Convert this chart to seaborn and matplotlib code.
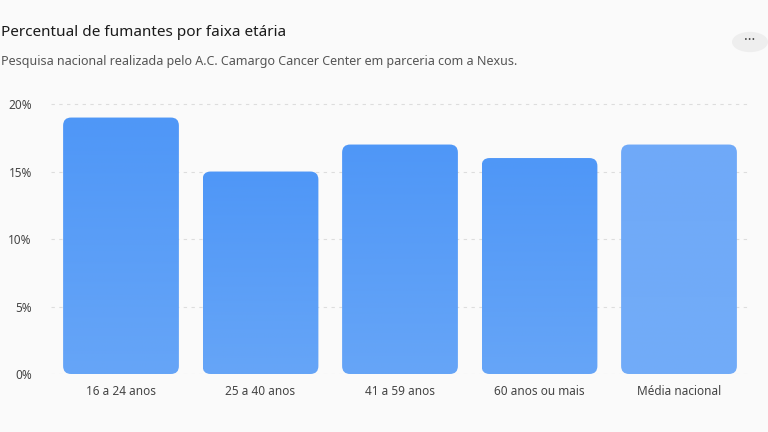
import matplotlib
matplotlib.use("Agg")
import matplotlib.pyplot as plt
import seaborn as sns
import numpy as np
import pandas as pd
from matplotlib.patches import FancyBboxPatch, Circle

categories = ["16 a 24 anos", "25 a 40 anos", "41 a 59 anos", "60 anos ou mais", "Média nacional"]
values = [19, 15, 17, 16, 17]
yticks = [0, 5, 10, 15, 20]
ytick_labels = ["0%", "5%", "10%", "15%", "20%"]

sns.set_theme(style="white")
plt.rcParams['font.family'] = ['Segoe UI', 'Noto Sans', 'DejaVu Sans']
bg = "#fafafa"
fig = plt.figure(figsize=(7.68, 4.32), dpi=100, facecolor=bg)
W, H = 768, 432
ax = fig.add_axes([51.25/W, 58/H, (748.75-51.25)/W, (374-100)/H], facecolor=bg)
df = pd.DataFrame({"cat": categories, "val": values})
sns.barplot(data=df, x="cat", y="val", ax=ax, width=0.83, color="#4f97f7")
ax.set_xlim(-0.5, 4.5)
ax.set_ylim(0, 20.3)
fig.canvas.draw()
# data per pixel
xpp = 5.0 / (748.75 - 51.25)
ypp = 20.3 / (374 - 100)
for i, p in enumerate(list(ax.patches)):
    x0, w, h = p.get_x(), p.get_width(), p.get_height()
    p.remove()
    top_c = np.array(matplotlib.colors.to_rgb("#6fa9f8" if i == 4 else "#4f97f7"))
    bot_c = np.array(matplotlib.colors.to_rgb("#72acf8" if i == 4 else "#66a5f7"))
    grad = np.linspace(0, 1, 100)[:, None, None]
    img = top_c * (1 - grad) + bot_c * grad
    fb = FancyBboxPatch((x0, 0), w, h, boxstyle=f"round,pad=0,rounding_size={8*xpp}",
                        mutation_aspect=ypp / xpp, facecolor="none", edgecolor="none")
    ax.add_patch(fb)
    im = ax.imshow(img, extent=[x0, x0 + w, 0, h], aspect="auto", zorder=2, origin="upper")
    im.set_clip_path(fb)
ax.set_xlim(-0.5, 4.5)
ax.set_ylim(0, 20.3)
ax.set_yticks(yticks)
ax.set_yticklabels(ytick_labels)
ax.yaxis.grid(True, linestyle=(0, (3, 4)), color="#dddddd", linewidth=0.8)
ax.set_axisbelow(True)
for s in ax.spines.values():
    s.set_visible(False)
ax.set_xlabel(""); ax.set_ylabel("")
ax.tick_params(axis="both", length=0, labelsize=8.5, colors="#444444")
ax.tick_params(axis="x", pad=8)
ax.tick_params(axis="y", pad=14)
fig.text(1/W, 1 - 32/H, "Percentual de fumantes por faixa etária", fontsize=11, fontweight="bold",
         color="#1a1a1a", va="center", ha="left")
fig.text(1/W, 1 - 62/H, "Pesquisa nacional realizada pelo A.C. Camargo Cancer Center em parceria com a Nexus.",
         fontsize=9, color="#555555", va="center", ha="left")
fig.patches.append(Circle((750/W, 1 - 42/H), 18/W, transform=fig.transFigure, facecolor="#eeeeee",
                          edgecolor="none"))
fig.text(750/W, 1 - 40/H, "···", fontsize=10, color="#444444", ha="center", va="center", fontweight="bold")
fig.savefig("out.png", dpi=100, facecolor=bg)
